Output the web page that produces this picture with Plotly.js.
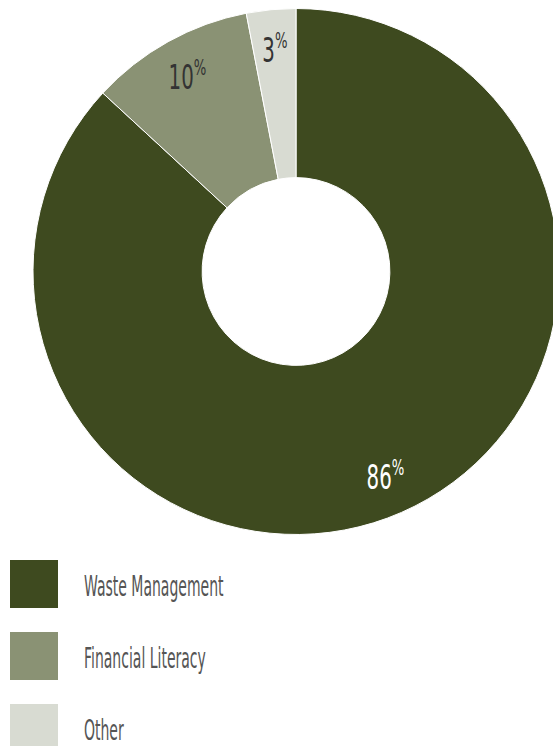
<!DOCTYPE html>
<html>
<head>
<meta charset="utf-8">
<script src="https://cdn.plot.ly/plotly-3.0.1.min.js"></script>
<style>
html,body{margin:0;padding:0;overflow:hidden;background:#fff;width:553px;height:746px;}
#chart{width:560px;height:746px;}
</style>
</head>
<body>
<div id="chart"></div>
<script>
var labels = ["Waste Management", "Financial Literacy", "Other"];
var values = [86, 10, 3];
var pctLabels = ["86", "10", "3"];
var colors = ["#3e4a1f", "#8a9274", "#d8dbd2"];
var textColors = ["#ffffff", "#333333", "#333333"];

var W = 560, H = 746;
var FONT = "'DejaVu Sans', sans-serif";

// pie placement (pixels)
var pieLeft = 33, pieRight = 559, pieTop = 8, pieBottom = 535;
var cx = (pieLeft + pieRight) / 2, cy = (pieTop + pieBottom) / 2;
var R = (pieRight - pieLeft) / 2;

var trace = {
  type: "pie",
  labels: labels,
  values: values,
  hole: 0.357,
  sort: false,
  direction: "clockwise",
  rotation: 0,
  marker: {colors: colors, line: {color: "#ffffff", width: 1}},
  textinfo: "none",
  hoverinfo: "label+percent",
  domain: {x: [pieLeft / W, pieRight / W], y: [1 - pieBottom / H, 1 - pieTop / H]},
  showlegend: false
};

var shapes = [], annotations = [], squeeze = [];

// percentage labels placed at each slice's mid-angle (from the values)
var total = values.reduce(function (a, b) { return a + b; }, 0);
var cum = 0;
values.forEach(function (v, i) {
  var mid = (cum + v / 2) / total * 2 * Math.PI;
  cum += v;
  var r = R * 0.85;
  var px = cx + r * Math.sin(mid), py = cy - r * Math.cos(mid);
  annotations.push({
    xref: "paper", yref: "paper",
    x: px / W, y: 1 - py / H,
    xanchor: "center", yanchor: "middle",
    text: pctLabels[i] + "<sup><span style='font-size:22px'>%</span></sup>", showarrow: false,
    font: {family: FONT, size: 33, color: textColors[i]}
  });
  squeeze.push({s: 0.6, left: false});
});

// custom legend built from the label/colour arrays
var legTop = 560, legStep = 72, sq = 48, legLeft = 10, textLeft = 82;
labels.forEach(function (lab, i) {
  var y0 = legTop + i * legStep;
  shapes.push({
    type: "rect", xref: "paper", yref: "paper",
    x0: legLeft / W, x1: (legLeft + sq) / W,
    y0: 1 - (y0 + sq) / H, y1: 1 - y0 / H,
    fillcolor: colors[i], line: {width: 0}
  });
  annotations.push({
    xref: "paper", yref: "paper",
    x: textLeft / W, y: 1 - (y0 + sq / 2 + 2) / H,
    xanchor: "left", yanchor: "middle", align: "left",
    text: lab, showarrow: false,
    font: {family: FONT, size: 28, color: "#555555"}
  });
  squeeze.push({s: 0.5, left: true});
});

var layout = {
  width: W, height: H,
  margin: {l: 0, r: 0, t: 0, b: 0},
  paper_bgcolor: "#ffffff",
  showlegend: false,
  shapes: shapes,
  annotations: annotations
};

Plotly.newPlot("chart", [trace], layout, {displayModeBar: false, staticPlot: true}).then(function (gd) {
  // imitate the condensed typeface by narrowing the text horizontally
  var texts = gd.querySelectorAll(".annotation-text");
  texts.forEach(function (t, k) {
    var q = squeeze[k] || {s: 1, left: false};
    var bb = t.getBBox();
    var ax = q.left ? bb.x : bb.x + bb.width / 2;
    var prev = t.getAttribute("transform") || "";
    t.setAttribute("transform", prev + " translate(" + ax + ",0) scale(" + q.s + ",1) translate(" + (-ax) + ",0)");
  });
});
</script>
</body>
</html>
